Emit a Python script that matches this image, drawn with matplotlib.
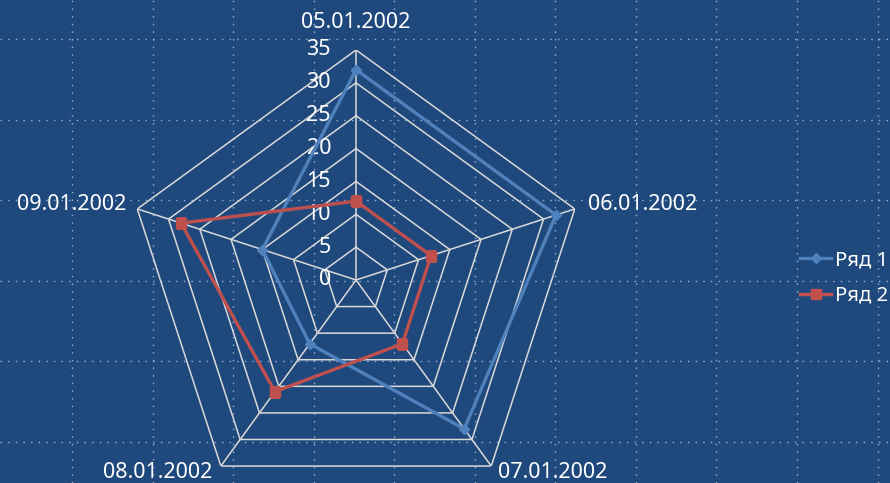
import numpy as np
import matplotlib.pyplot as plt

categories = ['05.01.2002', '06.01.2002', '07.01.2002', '08.01.2002', '09.01.2002']
series_names = ['Ряд 1', 'Ряд 2']
row1 = [32, 32, 28, 12, 15]
row2 = [12, 12, 12, 21, 28]
r_ticks = [0, 5, 10, 15, 20, 25, 30, 35]

bg = '#1F497D'
grid_col = '#D9D9D9'
blue = '#4F81BD'
red = '#C0504D'

plt.rcParams['font.family'] = ['Noto Sans', 'DejaVu Sans']
fig = plt.figure(figsize=(8.9, 4.83), dpi=100, facecolor=bg)

# dotted background grid over the whole chart area
bax = fig.add_axes([0, 0, 1, 1], zorder=0)
bax.set_facecolor(bg)
bax.set_xlim(0, 890)
bax.set_ylim(483, 0)
bax.set_xticks(72 + 80.55 * np.arange(11))
bax.set_yticks(39 + 80.6 * np.arange(6))
bax.grid(True, color='#9DB3D0', linestyle=(0, (1, 4.5)), linewidth=1)
bax.tick_params(length=0, labelbottom=False, labelleft=False)
for s in bax.spines.values():
    s.set_visible(False)

# radar
ax = fig.add_axes([0.1416, -0.0559, 0.5169, 0.9524], projection='polar', zorder=1)
ax.patch.set_alpha(0)
ax.set_theta_offset(np.pi / 2)
ax.set_theta_direction(-1)
ax.set_ylim(0, 35)
ax.grid(False)
ax.spines['polar'].set_visible(False)
ax.set_xticks([])
ax.set_yticks([])

n = len(categories)
angles = np.arange(n) * 2 * np.pi / n
closed = np.append(angles, angles[0])

for lv in r_ticks[1:]:
    ax.plot(closed, [lv] * (n + 1), color=grid_col, lw=1.1, zorder=1)
for a in angles:
    ax.plot([a, a], [0, 35], color=grid_col, lw=1.1, zorder=1)

for lv in r_ticks:
    ax.annotate(str(lv), (0, lv), xytext=(-25, 0), textcoords='offset pixels',
                ha='right', va='center', color='white', fontsize=15.5)

offsets = [(0, 27, 'center'), (13, 4, 'left'), (7, -6, 'left'),
           (-8, -6, 'right'), (-11, 4, 'right')]
for a, lab, (dx, dy, ha) in zip(angles, categories, offsets):
    ax.annotate(lab, (a, 35), xytext=(dx, dy), textcoords='offset pixels',
                ha=ha, va='center', color='white', fontsize=15.5)

ax.plot(closed, row1 + row1[:1], color=blue, lw=2.4, marker='D', ms=5.5,
        label=series_names[0], zorder=3)
ax.plot(closed, row2 + row2[:1], color=red, lw=2.4, marker='s', ms=7,
        label=series_names[1], zorder=3)

fig.legend(loc='center left', bbox_to_anchor=(0.899, 0.4244), frameon=False,
           fontsize=14.5, labelcolor='white', handlelength=1.55, handletextpad=0.2,
           labelspacing=0.75, borderpad=0, borderaxespad=0)

fig.savefig('out.png', dpi=100, facecolor=bg)
